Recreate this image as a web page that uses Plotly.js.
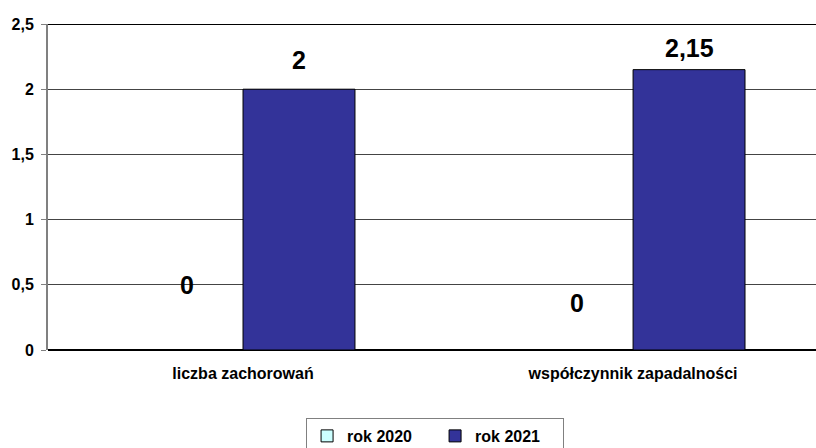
<!DOCTYPE html>
<html>
<head>
<meta charset="utf-8">
<script src="https://cdn.plot.ly/plotly-3.0.1.min.js"></script>
<style>html,body{margin:0;padding:0;background:#fff;}#chart{width:816px;height:448px;}</style>
</head>
<body>
<div id="chart"></div>
<script>
// Data
const categories = ["liczba zachorowań", "współczynnik zapadalności"];
const seriesNames = ["rok 2020", "rok 2021"];
const values2020 = [0, 0];
const values2021 = [2, 2.15];
const yTickVals = [0, 0.5, 1, 1.5, 2, 2.5];
const yTickText = ["0", "0,5", "1", "1,5", "2", "2,5"];

// Styles / label placement (not data)
const colors = ["#CCFFFF", "#333399"];
const labelXShift = [-56, 56];
const labelYShift = [[65, 47], [29, 22]];

const fmt = v => String(v).replace(".", ",");
const FONT = "'Liberation Sans', Arial, sans-serif";

const seriesValues = [values2020, values2021];
const traces = seriesValues.map((vals, i) => ({
  type: "bar",
  name: seriesNames[i],
  x: categories,
  y: vals,
  marker: {color: colors[i], line: {color: "#000000", width: 1}},
  hoverinfo: "none"
}));

const annotations = [];
seriesValues.forEach((vals, i) => {
  vals.forEach((v, j) => {
    annotations.push({
      x: categories[j], y: v, xref: "x", yref: "y",
      text: "<b>" + fmt(v) + "</b>", showarrow: false,
      xshift: labelXShift[i], yshift: labelYShift[i][j],
      font: {family: FONT, size: 25, color: "#000"},
      yanchor: "middle"
    });
  });
});

const layout = {
  width: 816, height: 448,
  margin: {l: 48, r: 0, t: 24, b: 98, autoexpand: false},
  paper_bgcolor: "#fff", plot_bgcolor: "#fff",
  barmode: "group", bargap: 0.426, bargroupgap: 0,
  showlegend: true,
  legend: {
    orientation: "h", x: 0.504, xanchor: "center",
    yref: "container", y: 0.067, yanchor: "top",
    bordercolor: "#808080", borderwidth: 1, bgcolor: "#fff",
    font: {family: FONT, size: 16, color: "#000", weight: "bold"},
    itemwidth: 30, entrywidth: 83, traceorder: "normal"
  },
  xaxis: {
    type: "category", range: [-0.5, 1.469],
    showgrid: false, zeroline: false,
    showline: false, ticks: "", ticklabelstandoff: 12,
    tickfont: {family: FONT, size: 16, color: "#000", weight: "bold"},
    fixedrange: true
  },
  yaxis: {
    range: [0, 2.5], tickvals: yTickVals, ticktext: yTickText,
    showgrid: true, gridcolor: "#444444", gridwidth: 1,
    zeroline: true, zerolinecolor: "#000", zerolinewidth: 2,
    showline: true, linecolor: "#808080", linewidth: 2,
    ticks: "outside", ticklen: 5, tickcolor: "#808080",
    ticklabelstandoff: 4,
    tickfont: {family: FONT, size: 16, color: "#000", weight: "bold"},
    fixedrange: true
  },
  shapes: [{type: "line", xref: "paper", yref: "y", x0: 0, x1: 1, y0: 2.5, y1: 2.5, line: {color: "#000", width: 2}}],
  annotations: annotations
};

Plotly.newPlot("chart", traces, layout, {displayModeBar: false, staticPlot: true});
</script>
</body>
</html>
